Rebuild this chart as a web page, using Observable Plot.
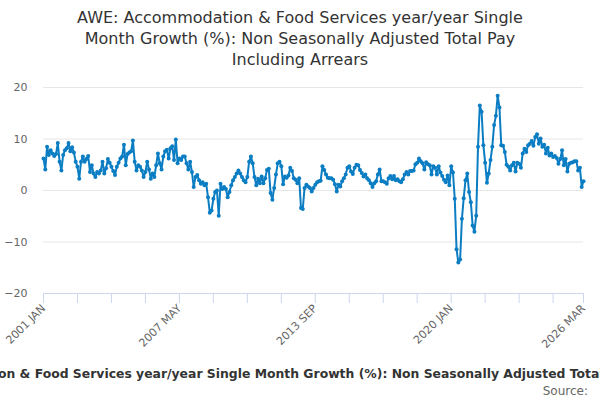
<!DOCTYPE html>
<html>
<head>
<meta charset="utf-8">
<script src="https://cdn.jsdelivr.net/npm/d3@7"></script>
<script src="https://cdn.jsdelivr.net/npm/@observablehq/plot@0.6"></script>
<style>
html, body { margin: 0; padding: 0; background: #fff; }
#wrap { width: 600px; height: 400px; overflow: hidden; position: relative; font-family: "DejaVu Sans", sans-serif; }
#title { height: 69px; padding-top: 7px; text-align: center; font-size: 16px; line-height: 21px; color: #333; }
#chart { height: 272px; }
#legend { position: absolute; left: 0; top: 366px; width: 600px; display: flex; justify-content: center; overflow: hidden; white-space: nowrap; font-size: 12.4px; line-height: 15px; font-weight: bold; color: #333; }
#legend .sym { display: inline-block; width: 16px; margin-right: 5px; position: relative; }
#source { position: absolute; right: 12px; top: 384px; font-size: 12px; line-height: 14px; color: #666; }
</style>
</head>
<body>
<div id="wrap">
  <div id="title"></div>
  <div id="chart"></div>
  <div id="legend"></div>
  <div id="source"></div>
</div>
<script>
const titleLines = [
  "AWE: Accommodation & Food Services year/year Single",
  "Month Growth (%): Non Seasonally Adjusted Total Pay",
  "Including Arrears"
];
const seriesName = "AWE: Accommodation & Food Services year/year Single Month Growth (%): Non Seasonally Adjusted Total Pay Including Arrears";
const sourceText = "Source:";
const startMonth = "2001-01";
const yTicks = [-20, -10, 0, 10, 20];
const tickLabels = ["2001 JAN", "2007 MAY", "2013 SEP", "2020 JAN", "2026 MAR"];
const tickStep = 19;

// monthly values, Jan 2001 .. Mar 2026
const values = [
  // 2001
  6.2, 4.1, 8.5, 6.9, 7.8, 7.2, 6.7, 7.1, 9.2, 5.6, 3.9, 6.9,
  // 2002
  7.8, 8.2, 9.2, 7.6, 8.4, 7.4, 5.6, 4.6, 2.3, 5.6, 6.6, 5.6,
  // 2003
  6.1, 6.7, 3.6, 4.9, 3.3, 2.6, 3.6, 3.3, 3.9, 5.6, 3.3, 4.3,
  // 2004
  6.1, 5.4, 4.6, 3.8, 3.0, 4.6, 5.4, 6.2, 6.6, 8.9, 4.9, 7.1,
  // 2005
  7.4, 7.6, 9.7, 5.6, 3.9, 4.9, 4.6, 3.9, 2.6, 3.6, 5.6, 4.1,
  // 2006
  2.3, 3.3, 2.6, 4.9, 7.2, 5.3, 4.1, 6.6, 7.6, 7.9, 6.2, 8.2,
  // 2007
  8.6, 5.9, 9.9, 5.3, 6.2, 5.9, 6.6, 6.6, 5.3, 4.1, 5.6, 3.6,
  // 2008
  0.7, 2.6, 3.0, 2.0, 1.3, 1.6, 1.0, 1.3, -1.3, -4.3, -3.9, -1.6,
  // 2009
  -0.3, 0.0, -4.9, 1.3, 0.3, 0.7, 0.3, -1.3, -0.3, 1.0, 2.0, 2.6,
  // 2010
  3.3, 3.9, 3.3, 2.6, 2.0, 1.6, 2.6, 5.6, 6.6, 5.3, 2.6, 1.0,
  // 2011
  2.3, 1.4, 2.7, 1.4, 2.4, 4.0, 4.2, -0.5, -1.8, 0.5, 3.1, 5.3,
  // 2012
  5.6, 4.7, 1.2, 2.7, 2.5, 2.9, 4.4, 3.8, 2.4, 2.1, 1.4, 2.4,
  // 2013
  -3.4, -3.6, 0.5, 1.1, 0.8, 0.5, -0.2, 0.5, 1.1, 1.6, 1.8, 1.9,
  // 2014
  4.7, 4.0, 3.1, 2.5, 2.4, 2.4, 2.1, 1.2, -0.2, 1.1, 0.8, 1.8,
  // 2015
  2.4, 3.1, 4.4, 4.7, 3.7, 3.2, 4.4, 5.0, 4.9, 4.0, 3.4, 2.7,
  // 2016
  3.1, 2.4, 2.0, 1.4, 0.7, 1.4, 1.8, 3.1, 4.1, 1.8, 1.8, 1.6,
  // 2017
  1.3, 2.4, 2.8, 2.2, 2.8, 2.0, 2.2, 1.8, 1.6, 2.2, 3.1, 3.6,
  // 2018
  3.1, 3.8, 3.8, 3.9, 5.1, 5.4, 6.2, 5.7, 5.3, 4.1, 5.5, 5.1,
  // 2019
  4.9, 3.1, 4.7, 4.4, 3.1, 4.7, 3.5, 2.8, 2.1, 1.6, 2.9, 1.0,
  // 2020
  4.7, 3.5, -1.6, -11.4, -14.0, -13.4, -5.5, -1.5, 2.0, 3.3, -0.3, -2.3,
  // 2021
  -6.8, -8.0, -4.9, 8.5, 16.5, 15.3, 8.8, 5.4, 1.5, 3.3, 5.9, 8.5,
  // 2022
  12.7, 14.5, 18.4, 16.1, 8.8, 8.7, 7.5, 5.0, 4.6, 3.9, 4.9, 5.4,
  // 2023
  3.7, 5.4, 5.2, 4.4, 7.2, 8.1, 7.5, 8.8, 9.1, 9.6, 8.7, 10.4,
  // 2024
  10.9, 9.1, 10.1, 8.5, 8.9, 7.2, 8.3, 6.8, 7.2, 6.5, 6.7, 6.3,
  // 2025
  5.2, 6.1, 7.8, 4.9, 6.1, 3.7, 5.2, 5.4, 5.5, 5.7, 5.7, 3.9,
  // 2026
  4.4, 0.7, 1.8
];

const lineColor = "#0b7dc3";

// title
const titleEl = document.getElementById("title");
titleLines.forEach(t => { const d = document.createElement("div"); d.textContent = t; titleEl.appendChild(d); });

// months / labels
const start = d3.utcParse("%Y-%m")(startMonth);
const fmt = d3.utcFormat("%Y %b");
const monthLabel = i => fmt(d3.utcMonth.offset(start, i)).toUpperCase();
const data = values.map((v, i) => ({i, v}));
const last = values.length - 1;
const labelMap = new Map();
for (let i = 0; i <= last; i++) { const l = monthLabel(i); if (tickLabels.includes(l)) labelMap.set(i, l); }
const tickIdx = d3.range(0, last, tickStep).concat([last]);

const plot = Plot.plot({
  width: 600,
  height: 272,
  marginTop: 11,
  marginBottom: 55,
  marginLeft: 43,
  marginRight: 17,
  style: {fontFamily: "DejaVu Sans", fontSize: "11px", color: "#666", background: "transparent", overflow: "visible"},
  x: {domain: [0, last]},
  y: {domain: [-20, 20]},
  marks: [
    Plot.gridY(yTicks, {stroke: "#e6e6e6", strokeOpacity: 1}),
    Plot.axisY(yTicks, {tickSize: 0, tickPadding: 16, fill: "#666", label: null}),
    Plot.ruleY([-20], {stroke: "#ccd6eb", strokeWidth: 1}),
    Plot.axisX(tickIdx, {tickSize: 10, stroke: "#ccd6eb", strokeOpacity: 1, tickRotate: -45, tickPadding: 3, fill: "#666", label: null, tickFormat: i => labelMap.get(i) ?? ""}),
    Plot.line(data, {x: "i", y: "v", stroke: lineColor, strokeWidth: 2}),
    Plot.dot(data, {x: "i", y: "v", fill: lineColor, r: 2})
  ]
});
document.getElementById("chart").appendChild(plot);

// legend
const leg = document.getElementById("legend");
const inner = document.createElement("div");
inner.style.flex = "0 0 auto";
inner.innerHTML = '<span class="sym"><svg width="16" height="12" style="vertical-align:middle"><line x1="0" x2="16" y1="6" y2="6" stroke="' + lineColor + '" stroke-width="2"/><circle cx="8" cy="6" r="3" fill="' + lineColor + '"/></svg></span>';
const txt = document.createElement("span");
txt.textContent = seriesName;
inner.appendChild(txt);
leg.appendChild(inner);
document.getElementById("source").textContent = sourceText;
</script>
</body>
</html>
